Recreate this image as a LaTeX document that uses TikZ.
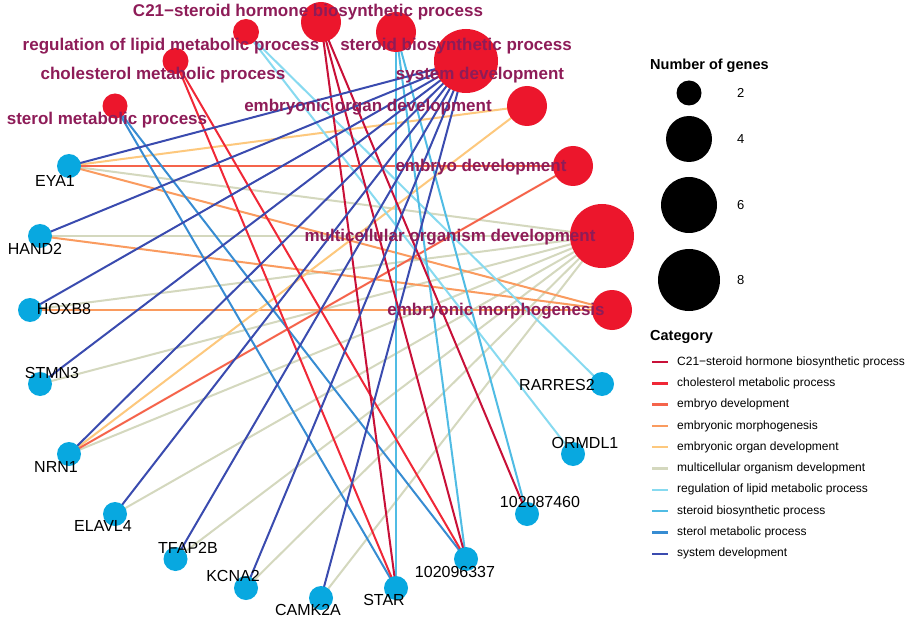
\documentclass[tikz,border=0pt]{standalone}
\usepackage{fontspec}
\setmainfont{Liberation Sans}
\definecolor{cC21}{RGB}{200,16,56}
\definecolor{cChol}{RGB}{240,40,55}
\definecolor{cED}{RGB}{245,100,75}
\definecolor{cEM}{RGB}{250,155,95}
\definecolor{cEOD}{RGB}{253,200,125}
\definecolor{cMOD}{RGB}{212,216,190}
\definecolor{cRLMP}{RGB}{135,218,240}
\definecolor{cSBP}{RGB}{80,188,228}
\definecolor{cSMP}{RGB}{55,140,210}
\definecolor{cSD}{RGB}{58,75,175}
\definecolor{catred}{RGB}{236,22,44}
\definecolor{geneblue}{RGB}{8,168,224}
\definecolor{catlab}{RGB}{142,28,88}
\begin{document}
\begin{tikzpicture}[x=1pt,y=-1pt,
  edge/.style={line width=2pt},
  catdot/.style={circle,fill=catred,draw=none,inner sep=0pt,minimum size=#1},
  genedot/.style={circle,fill=geneblue,draw=none,inner sep=0pt,minimum size=24pt},
  catlabel/.style={text=catlab,inner sep=0pt,font=\fontsize{17}{20}\selectfont\bfseries},
  genelabel/.style={text=black,inner sep=0pt,font=\fontsize{16}{19}\selectfont},
  legtitle/.style={inner sep=0pt,anchor=west,font=\fontsize{14.5}{17}\selectfont\bfseries},
  legtext/.style={inner sep=0pt,anchor=west,font=\fontsize{12}{14}\selectfont},
  legnum/.style={inner sep=0pt,anchor=west,font=\fontsize{13}{15}\selectfont},
  legdot/.style={circle,fill=black,draw=none,inner sep=0pt,minimum size=#1}
]
\useasboundingbox[fill=white] (0,0) rectangle (920,620);

% node centres (circular layout)
\coordinate (EM)   at (612,310);
\coordinate (MOD)  at (602,236);
\coordinate (ED)   at (573,166);
\coordinate (EOD)  at (527,106);
\coordinate (SD)   at (466,61);
\coordinate (SBP)  at (396,32);
\coordinate (C21)  at (321,22);
\coordinate (RLMP) at (246,32);
\coordinate (CMP)  at (175.5,61);
\coordinate (SMP)  at (115,106);
\coordinate (EYA1) at (69,166);
\coordinate (HAND2) at (40,236);
\coordinate (HOXB8) at (30,310);
\coordinate (STMN3) at (40,384);
\coordinate (NRN1) at (69,454);
\coordinate (ELAVL4) at (115,514);
\coordinate (TFAP2B) at (175.5,559);
\coordinate (KCNA2) at (246,588);
\coordinate (CAMK2A) at (321,598);
\coordinate (STAR) at (396,588);
\coordinate (G96337) at (466,559);
\coordinate (G87460) at (527,514);
\coordinate (ORMDL1) at (573,454);
\coordinate (RARRES2) at (602,384);

% edges
\foreach \g in {EYA1,HAND2,HOXB8,STMN3,NRN1,ELAVL4,TFAP2B,KCNA2,CAMK2A}
  \draw[edge,cMOD] (MOD) -- (\g);
\foreach \g in {EYA1,HAND2,HOXB8}
  \draw[edge,cEM] (EM) -- (\g);
\foreach \g in {EYA1,NRN1}
  \draw[edge,cEOD] (EOD) -- (\g);
\foreach \g in {EYA1,NRN1}
  \draw[edge,cED] (ED) -- (\g);
\foreach \g in {RARRES2,ORMDL1}
  \draw[edge,cRLMP] (RLMP) -- (\g);
\foreach \g in {STAR,G96337,G87460}
  \draw[edge,cSBP] (SBP) -- (\g);
\foreach \g in {STAR,G96337}
  \draw[edge,cSMP] (SMP) -- (\g);
\foreach \g in {STAR,G96337}
  \draw[edge,cChol] (CMP) -- (\g);
\foreach \g in {STAR,G96337,G87460}
  \draw[edge,cC21] (C21) -- (\g);
\foreach \g in {EYA1,HAND2,HOXB8,STMN3,NRN1,ELAVL4,TFAP2B,KCNA2,CAMK2A}
  \draw[edge,cSD] (SD) -- (\g);

% category dots
\node[catdot=40pt] (dEM) at (EM) {};
\node[catdot=64pt] (dMOD) at (MOD) {};
\node[catdot=40pt] (dED) at (ED) {};
\node[catdot=40pt] (dEOD) at (EOD) {};
\node[catdot=64pt] (dSD) at (SD) {};
\node[catdot=40pt] (dSBP) at (SBP) {};
\node[catdot=40pt] (dC21) at (C21) {};
\node[catdot=26pt] (dRLMP) at (RLMP) {};
\node[catdot=26pt] (dCMP) at (CMP) {};
\node[catdot=25pt] (dSMP) at (SMP) {};

% gene dots
\foreach \g in {EYA1,HAND2,HOXB8,STMN3,NRN1,ELAVL4,TFAP2B,KCNA2,CAMK2A,STAR,G96337,G87460,ORMDL1,RARRES2}
  \node[genedot] (d\g) at (\g) {};

% category labels
\node[catlabel] (lC21) at (308,12) {C21−steroid hormone biosynthetic process};
\node[catlabel] (lRLMP) at (171,46) {regulation of lipid metabolic process};
\node[catlabel] (lCMP) at (163,75) {cholesterol metabolic process};
\node[catlabel] (lSMP) at (107,120) {sterol metabolic process};
\node[catlabel] (lSBP) at (456,46) {steroid biosynthetic process};
\node[catlabel] (lSD) at (480,75) {system development};
\node[catlabel] (lEOD) at (368,107) {embryonic organ development};
\node[catlabel] (lED) at (481,167) {embryo development};
\node[catlabel] (lMOD) at (450,237) {multicellular organism development};
\node[catlabel] (lEM) at (496,311) {embryonic morphogenesis};

% gene labels
\node[genelabel] (lEYA1) at (55,181) {EYA1};
\node[genelabel] (lHAND2) at (35,249) {HAND2};
\node[genelabel] (lHOXB8) at (64,309) {HOXB8};
\node[genelabel] (lSTMN3) at (52,373) {STMN3};
\node[genelabel] (lNRN1) at (56,467) {NRN1};
\node[genelabel] (lELAVL4) at (103,526) {ELAVL4};
\node[genelabel] (lTFAP2B) at (188,548) {TFAP2B};
\node[genelabel] (lKCNA2) at (233,576) {KCNA2};
\node[genelabel] (lCAMK2A) at (308,610) {CAMK2A};
\node[genelabel] (lSTAR) at (384,600) {STAR};
\node[genelabel] (lG96337) at (455,572) {102096337};
\node[genelabel] (lG87460) at (540,502) {102087460};
\node[genelabel] (lORMDL1) at (585,443) {ORMDL1};
\node[genelabel] (lRARRES2) at (557,385) {RARRES2};

% legend: size
\node[legtitle] (lgNum) at (650,66) {Number of genes};
\node[legdot=25pt] (lg2) at (689,93) {};
\node[legdot=46pt] (lg4) at (689,139) {};
\node[legdot=56pt] (lg6) at (689,205) {};
\node[legdot=62pt] (lg8) at (689,280) {};
\node[legnum] (lgt2) at (737,93) {2};
\node[legnum] (lgt4) at (737,139) {4};
\node[legnum] (lgt6) at (737,205) {6};
\node[legnum] (lgt8) at (737,280) {8};

% legend: category
\node[legtitle] (lgCat) at (650,337) {Category};
\foreach \c/\t [count=\i from 0] in {cC21/C21−steroid hormone biosynthetic process,
  cChol/cholesterol metabolic process,
  cED/embryo development,
  cEM/embryonic morphogenesis,
  cEOD/embryonic organ development,
  cMOD/multicellular organism development,
  cRLMP/regulation of lipid metabolic process,
  cSBP/steroid biosynthetic process,
  cSMP/sterol metabolic process,
  cSD/system development}{
  \coordinate (ka\i) at (652,{362+21.3*\i});
  \coordinate (kb\i) at (668,{362+21.3*\i});
  \draw[line width=2.4pt,\c] (ka\i) -- (kb\i);
  \node[legtext] (kt\i) at (677,{362+21.3*\i}) {\t};
}
\end{tikzpicture}
\end{document}
